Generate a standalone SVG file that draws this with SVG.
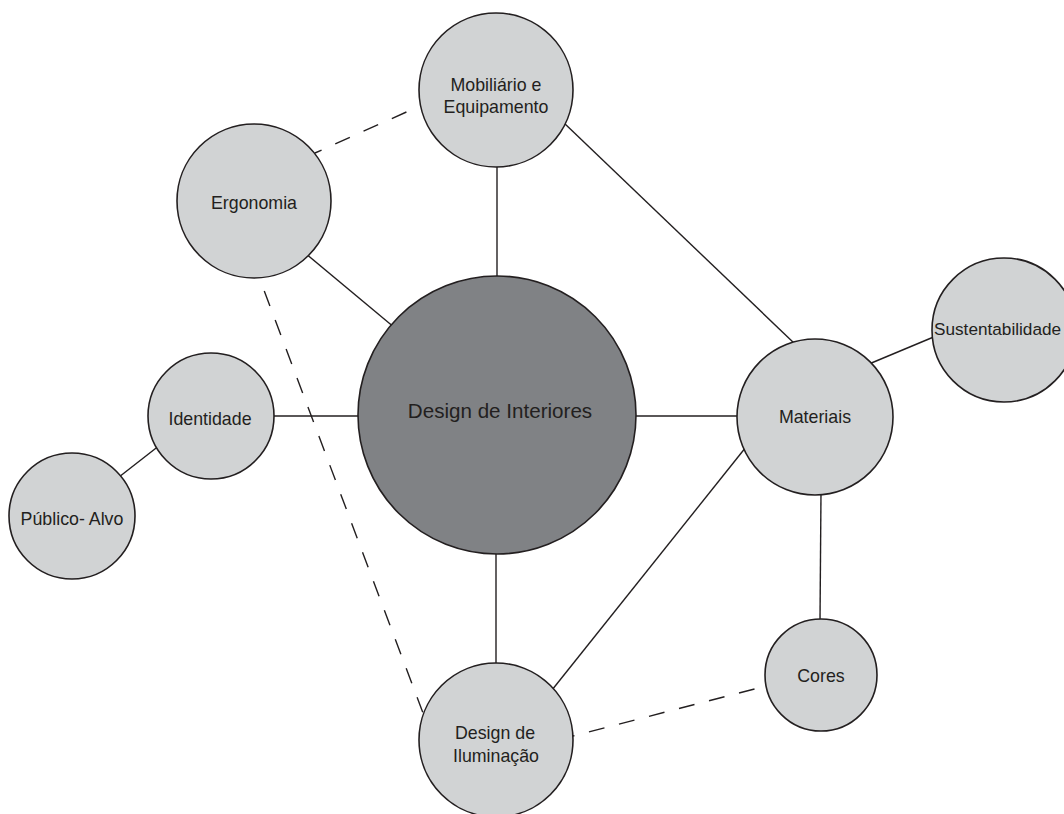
<svg xmlns="http://www.w3.org/2000/svg" width="1064" height="814" viewBox="0 0 1064 814">
<style>
.bg{fill:#ffffff}
.node{fill:#d1d3d4;stroke:#231f20;stroke-width:1.6}
.main{fill:#808285;stroke:#231f20;stroke-width:1.6}
.edge{stroke:#231f20;stroke-width:1.4;fill:none}
.dash{stroke:#231f20;stroke-width:1.4;fill:none;stroke-dasharray:16 15}
text{font-family:"Liberation Sans",Arial,sans-serif;font-size:17.8px;fill:#231f20;text-anchor:middle}
.big{font-size:20.6px}
</style>
<rect class="bg" x="0" y="0" width="1064" height="814"/>
<g id="connectors">
<line class="edge" x1="497" y1="160" x2="497" y2="280"/>
<line class="edge" x1="305" y1="253" x2="395" y2="328"/>
<line class="edge" x1="270" y1="416" x2="362" y2="416"/>
<line class="edge" x1="160" y1="445" x2="119" y2="477"/>
<line class="edge" x1="632" y1="416" x2="740" y2="416"/>
<line class="edge" x1="563" y1="122" x2="795" y2="344"/>
<line class="edge" x1="869" y1="364" x2="936" y2="336"/>
<line class="edge" x1="821" y1="492" x2="820" y2="621"/>
<line class="edge" x1="746" y1="447" x2="552" y2="690"/>
<line class="edge" x1="496" y1="550" x2="496" y2="668"/>
<line class="dash" x1="315" y1="153" x2="422" y2="105" stroke-dashoffset="8.8"/>
<line class="dash" x1="259" y1="277" x2="423.4" y2="714" stroke-dashoffset="16"/>
<line class="dash" x1="573" y1="736" x2="766" y2="686" stroke-dashoffset="14.5"/>
</g>
<g id="node-central">
<circle class="main" cx="497" cy="415" r="139"/>
<text class="big" x="500" y="418">Design de Interiores</text>
</g>
<g id="node-mobiliario">
<circle class="node" cx="496" cy="90" r="77"/>
<text x="496" y="91">Mobiliário e</text>
<text x="496" y="113">Equipamento</text>
</g>
<g id="node-ergonomia">
<circle class="node" cx="254" cy="201" r="77"/>
<text x="254" y="209">Ergonomia</text>
</g>
<g id="node-identidade">
<circle class="node" cx="211" cy="416" r="63"/>
<text x="210" y="425">Identidade</text>
</g>
<g id="node-publico">
<circle class="node" cx="72" cy="516" r="63"/>
<text x="72" y="525">Público- Alvo</text>
</g>
<g id="node-materiais">
<circle class="node" cx="815" cy="417" r="78"/>
<text x="815" y="423">Materiais</text>
</g>
<g id="node-sustentabilidade">
<circle class="node" cx="1004" cy="330" r="72"/>
<text x="934" y="335" style="text-anchor:start;font-size:17.2px">Sustentabilidade</text>
</g>
<g id="node-cores">
<circle class="node" cx="821" cy="675" r="56"/>
<text x="821" y="682">Cores</text>
</g>
<g id="node-iluminacao">
<circle class="node" cx="496" cy="740" r="77"/>
<text x="495" y="739">Design de</text>
<text x="496" y="762">Iluminação</text>
</g>
</svg>
